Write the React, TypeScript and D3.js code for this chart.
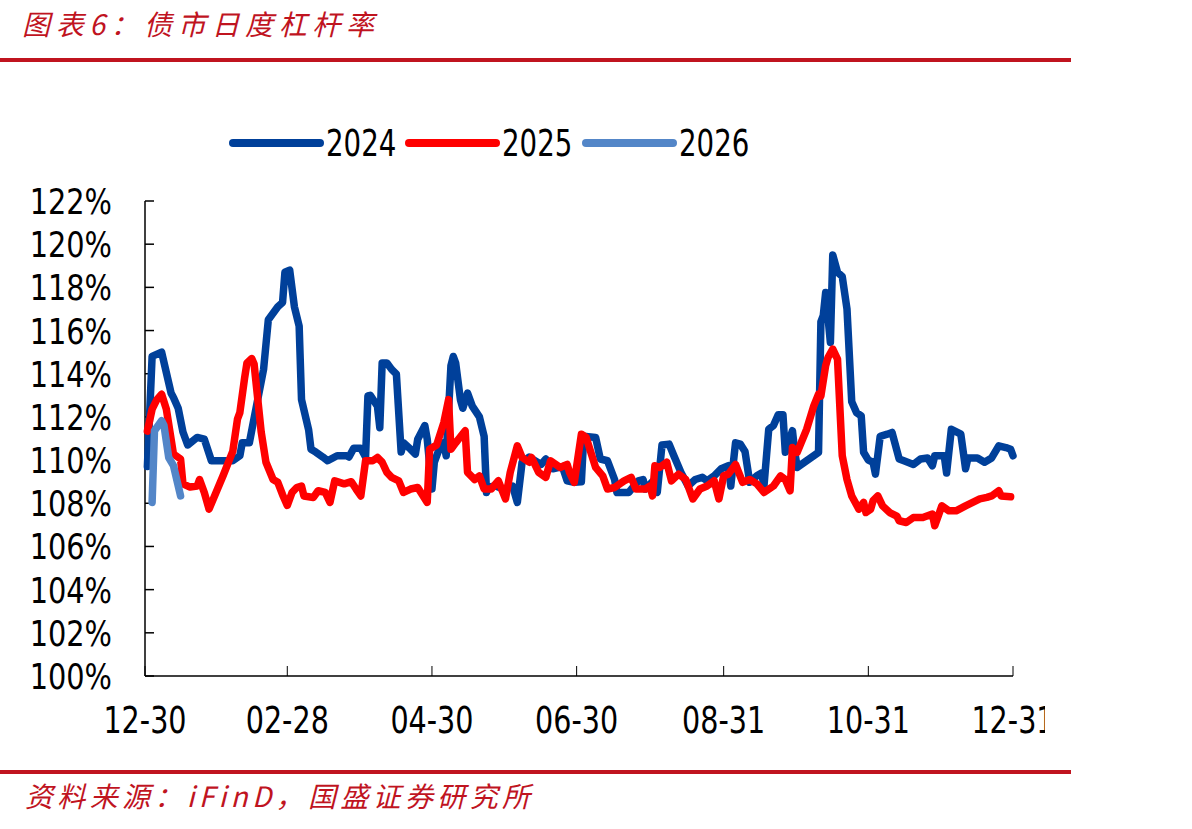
import React from "react";
import * as d3 from "d3";

// x: days counted from 12-30 (day 0) to 12-31 (day 366)
const xTickDays = [0, 60, 121, 182, 244, 305, 366];
const xTickLabels = ["12-30", "02-28", "04-30", "06-30", "08-31", "10-31", "12-31"];
const yTicks = [100, 102, 104, 106, 108, 110, 112, 114, 116, 118, 120, 122];

const seriesNames = ["2024", "2025", "2026"];
const seriesColors = ["#00409A", "#FF0000", "#5386C8"];

const days2024 = [1, 3, 7, 11, 12, 14, 16, 18, 22, 25, 28, 37, 40, 41, 44, 50, 52, 56, 58, 59, 61, 63, 65, 66, 69, 70, 72, 75, 77, 81, 85, 86, 88, 91, 93, 94, 95, 98, 99, 100, 102, 104, 106, 108, 109, 112, 114, 115, 118, 119, 121, 122, 124, 126, 127, 129, 130, 131, 133, 134, 136, 138, 141, 143, 144, 145, 148, 151, 155, 157, 159, 162, 167, 169, 172, 176, 178, 181, 184, 185, 190, 192, 195, 198, 199, 204, 208, 210, 211, 214, 216, 218, 221, 223, 226, 229, 232, 235, 237, 240, 243, 246, 247, 249, 251, 253, 255, 258, 260, 261, 263, 265, 267, 269, 270, 273, 274, 275, 284, 285, 286, 287, 289, 290, 292, 294, 296, 298, 300, 302, 303, 305, 307, 308, 310, 313, 315, 318, 320, 324, 327, 330, 332, 333, 337, 338, 340, 344, 346, 347, 351, 354, 357, 360, 363, 365, 366];
const values2024 = [109.7, 114.8, 115.0, 113.1, 112.9, 112.4, 111.3, 110.7, 111.05, 110.97, 109.97, 109.97, 110.2, 110.8, 110.8, 114.2, 116.5, 117.1, 117.3, 118.7, 118.8, 117.1, 116.2, 112.8, 111.4, 110.5, 110.37, 110.14, 109.97, 110.2, 110.2, 110.14, 110.55, 110.55, 110.14, 112.97, 113.0, 112.5, 111.5, 114.5, 114.5, 114.2, 113.98, 110.37, 110.8, 110.5, 110.28, 110.97, 111.6, 110.97, 108.66, 109.9, 110.5, 110.8, 110.2, 114.37, 114.8, 114.5, 112.8, 112.4, 113.1, 112.5, 112.0, 111.1, 108.5, 108.75, 108.8, 108.66, 108.8, 108.04, 109.9, 110.14, 109.8, 110.05, 109.6, 109.7, 109.04, 108.97, 109.0, 111.1, 111.05, 110.05, 109.97, 109.1, 108.5, 108.5, 109.04, 109.1, 108.66, 109.0, 108.5, 110.7, 110.74, 110.2, 109.43, 108.8, 109.1, 109.2, 109.04, 109.27, 109.6, 109.74, 108.8, 110.8, 110.74, 110.4, 108.97, 109.27, 109.4, 108.8, 111.43, 111.6, 112.1, 112.1, 110.36, 111.36, 110.36, 109.66, 110.36, 116.4, 116.7, 117.76, 115.45, 119.5, 118.7, 118.5, 117.0, 112.7, 112.2, 112.05, 110.36, 110.0, 109.9, 109.35, 111.1, 111.2, 111.28, 110.05, 109.97, 109.8, 110.05, 110.1, 109.74, 110.2, 110.2, 109.4, 111.43, 111.2, 109.6, 110.1, 110.1, 109.9, 110.1, 110.66, 110.58, 110.5, 110.2];

const days2025 = [1, 3, 5, 7, 9, 11, 12, 15, 16, 19, 22, 23, 25, 27, 33, 37, 39, 40, 42, 43, 45, 46, 49, 51, 54, 56, 58, 60, 62, 64, 66, 67, 71, 73, 76, 78, 80, 84, 87, 89, 91, 93, 96, 98, 100, 102, 104, 107, 109, 112, 115, 119, 120, 123, 126, 128, 129, 131, 135, 136, 139, 141, 143, 146, 149, 152, 154, 157, 159, 162, 163, 166, 169, 171, 175, 178, 179, 181, 184, 186, 188, 190, 193, 195, 198, 202, 205, 207, 211, 213, 214, 215, 217, 220, 222, 225, 228, 231, 234, 237, 240, 242, 244, 246, 249, 252, 255, 258, 261, 265, 268, 270, 272, 273, 275, 279, 282, 284, 285, 287, 288, 290, 292, 294, 296, 298, 301, 303, 304, 306, 307, 309, 311, 314, 317, 318, 321, 324, 328, 332, 333, 336, 339, 342, 346, 349, 352, 355, 357, 360, 361, 365];
const values2025 = [111.34, 112.36, 112.8, 113.05, 112.36, 110.97, 110.28, 110.05, 108.9, 108.75, 108.8, 109.1, 108.5, 107.73, 109.3, 110.4, 111.9, 112.2, 113.8, 114.5, 114.7, 114.45, 111.3, 109.9, 109.1, 108.97, 108.4, 107.9, 108.5, 108.73, 108.8, 108.34, 108.27, 108.58, 108.5, 108.04, 109.04, 108.9, 109.0, 108.66, 108.34, 109.97, 109.97, 110.12, 109.9, 109.43, 109.2, 109.04, 108.5, 108.66, 108.73, 108.04, 110.5, 110.7, 111.74, 112.8, 110.5, 110.8, 111.36, 109.43, 109.1, 109.27, 108.66, 108.66, 109.04, 108.2, 109.43, 110.66, 110.12, 109.9, 110.12, 109.43, 109.2, 109.97, 109.66, 109.8, 109.43, 108.97, 111.2, 111.05, 110.36, 109.66, 109.27, 108.66, 108.73, 109.04, 109.2, 108.66, 108.66, 108.8, 108.34, 109.74, 109.66, 109.9, 109.04, 109.35, 109.1, 108.2, 108.66, 108.8, 109.04, 108.2, 109.27, 109.35, 109.8, 108.97, 109.1, 108.9, 108.5, 108.8, 109.27, 109.1, 108.58, 110.58, 110.36, 111.43, 112.51, 113.05, 112.97, 114.37, 114.75, 115.14, 114.68, 110.2, 109.1, 108.34, 107.73, 108.04, 107.57, 107.73, 108.12, 108.34, 107.88, 107.57, 107.41, 107.19, 107.11, 107.34, 107.34, 107.5, 106.96, 107.88, 107.65, 107.65, 107.88, 108.04, 108.2, 108.27, 108.34, 108.58, 108.34, 108.3];

const days2026 = [3, 4, 7, 8, 10, 12, 15];
const values2026 = [108.04, 111.36, 111.82, 111.6, 110.12, 109.74, 108.34];

const W = 1192;
const H = 829;
const left = 145;
const right = 1013;
const top = 201;
const bottom = 676;
const red = "#C0141F";
const numFont = "'DejaVu Sans Condensed', 'DejaVu Sans', sans-serif";
const cjkFont = "'Noto Sans CJK SC', sans-serif";

export default function App() {
  const x = d3.scaleLinear().domain([0, 366]).range([left, right]);
  const y = d3.scaleLinear().domain([100, 122]).range([bottom, top]);

  const line = d3
    .line<[number, number]>()
    .x(d => x(d[0]))
    .y(d => y(d[1]));

  const series = [
    d3.zip(days2024, values2024) as [number, number][],
    d3.zip(days2025, values2025) as [number, number][],
    d3.zip(days2026, values2026) as [number, number][],
  ];

  const legendX = [233, 409, 586];

  return (
    <div style={{ position: "absolute", left: 0, top: 0 }}>
      <svg width={W} height={H} style={{ display: "block", background: "#fff" }}>
        <defs>
          <clipPath id="labelClip">
            <rect x={0} y={0} width={1045} height={H} />
          </clipPath>
        </defs>

        {/* title */}
        <text x={22} y={35} fill={red} fontFamily={cjkFont} fontStyle="italic" fontSize={28}
          textLength={352} lengthAdjust="spacing">
          图表6：债市日度杠杆率
        </text>
        <rect x={0} y={58} width={1071} height={4} fill={red} />

        {/* legend */}
        {seriesNames.map((name, i) => (
          <g key={name}>
            <line x1={legendX[i]} x2={legendX[i] + 87} y1={143} y2={143}
              stroke={seriesColors[i]} strokeWidth={8} strokeLinecap="round" />
            <g transform={`translate(${legendX[i] + 93},156) scale(0.83,1)`}>
              <text x={0} y={0} fontFamily={numFont} fontSize={37} fill="#000">
                {name}
              </text>
            </g>
          </g>
        ))}

        {/* y axis */}
        <line x1={left} x2={left} y1={top} y2={bottom} stroke="#000" strokeWidth={1.5} />
        {yTicks.map(t => (
          <g key={t}>
            <line x1={left} x2={left + 9} y1={y(t)} y2={y(t)} stroke="#000" strokeWidth={1.5} />
            <g transform={`translate(112,${y(t)}) scale(0.89,1)`}>
              <text x={0} y={0} dy="0.36em" textAnchor="end" fontFamily={numFont}
                fontSize={36} fill="#000">
                {t}%
              </text>
            </g>
          </g>
        ))}

        {/* x axis */}
        <line x1={left} x2={right} y1={bottom} y2={bottom} stroke="#000" strokeWidth={1.5} />
        <g clipPath="url(#labelClip)">
          {xTickDays.map((d, i) => (
            <g key={d}>
              <line x1={x(d)} x2={x(d)} y1={bottom} y2={bottom - 10} stroke="#000" strokeWidth={1} />
              <g transform={`translate(${x(d)},733) scale(0.86,1)`}>
                <text x={0} y={0} textAnchor="middle" fontFamily={numFont} fontSize={37} fill="#000">
                  {xTickLabels[i]}
                </text>
              </g>
            </g>
          ))}
        </g>

        {/* series */}
        {series.map((s, i) => (
          <path key={i} d={line(s) || ""} fill="none" stroke={seriesColors[i]}
            strokeWidth={7.5} strokeLinejoin="round" strokeLinecap="round" />
        ))}

        {/* source */}
        <rect x={0} y={770} width={1071} height={4} fill={red} />
        <text x={25} y={807} fill={red} fontFamily={cjkFont} fontStyle="italic" fontSize={28}
          textLength={505} lengthAdjust="spacing">
          资料来源：iFinD，国盛证券研究所
        </text>
      </svg>
    </div>
  );
}
